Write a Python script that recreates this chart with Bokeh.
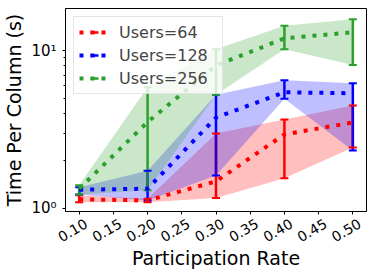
import math
from bokeh.plotting import figure
from bokeh.models import (Range1d, FixedTicker, Legend, LegendItem, ColumnDataSource,
                          LinearAxis)
from bokeh.embed import file_html
from bokeh.resources import INLINE

rates = [0.10, 0.20, 0.30, 0.40, 0.50]
x_ticks = [0.10, 0.15, 0.20, 0.25, 0.30, 0.35, 0.40, 0.45, 0.50]
x_tick_labels = ["0.10", "0.15", "0.20", "0.25", "0.30", "0.35", "0.40", "0.45", "0.50"]

u64_mean = [1.14, 1.12, 1.48, 2.94, 3.50]
u64_low = [1.09, 1.09, 1.16, 1.55, 2.43]
u64_high = [1.21, 1.15, 2.98, 3.66, 4.48]

u128_mean = [1.31, 1.33, 3.76, 5.44, 5.36]
u128_low = [1.22, 1.12, 1.61, 4.95, 2.32]
u128_high = [1.36, 1.73, 5.25, 6.49, 6.20]

u256_mean = [1.33, 3.52, 8.04, 11.96, 13.07]
u256_low = [1.22, 1.30, 5.25, 10.20, 8.10]
u256_high = [1.40, 5.85, 10.20, 14.40, 15.80]

series = [
    ("Users=64", "red", u64_mean, u64_low, u64_high),
    ("Users=128", "blue", u128_mean, u128_low, u128_high),
    ("Users=256", "#2ca02c", u256_mean, u256_low, u256_high),
]

FONT = "DejaVu Sans"
X_MIN, X_MAX = 0.08, 0.52
FRAME_W = 301

p = figure(frame_width=FRAME_W, frame_height=203, output_backend="svg", toolbar_location=None,
           y_axis_type="log", x_range=Range1d(X_MIN, X_MAX), y_range=Range1d(0.953, 18.5),
           min_border_left=57, min_border_right=10, min_border_top=8, min_border_bottom=10)
p.background_fill_color = "white"
p.border_fill_color = "white"
p.outline_line_color = "black"
p.outline_line_width = 1
p.xgrid.visible = False
p.ygrid.visible = False

# bars
for name, col, m, lo, hi in series:
    src = ColumnDataSource(dict(x=rates, lo=lo, hi=hi))
    p.segment(x0="x", y0="lo", x1="x", y1="hi", source=src, line_color=col, line_width=2.5)
# bands
for name, col, m, lo, hi in series:
    src = ColumnDataSource(dict(x=rates, lo=lo, hi=hi))
    p.varea(x="x", y1="lo", y2="hi", source=src, fill_color=col, fill_alpha=0.25)
# caps
for name, col, m, lo, hi in series:
    src = ColumnDataSource(dict(x=rates + rates, y=lo + hi))
    p.scatter(x="x", y="y", source=src, marker="dash", size=8, line_color=col, line_width=2)

items = []
for name, col, m, lo, hi in series:
    src = ColumnDataSource(dict(x=rates, y=m))
    ln = p.line(x="x", y="y", source=src, line_color=col, line_width=4, line_dash="4 7")
    off = ColumnDataSource(dict(x=[0.0], y=[1.0]))  # outside x_range: legend glyph only
    bar = p.scatter(x="x", y="y", source=off, marker="dash", angle=math.pi / 2,
                    size=17, line_color=col, line_width=2.5)
    items.append(LegendItem(label=name, renderers=[ln, bar]))

legend = Legend(items=items, location="top_left", margin=8, padding=5,
                glyph_width=30, glyph_height=20, label_height=20, label_width=98, spacing=3,
                label_standoff=10, label_text_font=FONT, label_text_font_size="16px",
                border_line_color="#cccccc", border_line_width=1,
                background_fill_alpha=0.8)
p.add_layout(legend)

# main x axis: ticks only
p.xaxis.ticker = FixedTicker(ticks=x_ticks)
p.xaxis.major_label_overrides = {t: " " for t in x_ticks}
p.xaxis.major_label_orientation = "vertical"
p.xaxis.major_label_text_font_size = "14px"
p.xaxis.major_label_standoff = 0
p.xaxis.minor_tick_line_color = None

# label axis: rotated labels centred on the ticks
LABEL_PX = 14
shift = 7 * (X_MAX - X_MIN) / FRAME_W
lab_ticks = [t + shift for t in x_ticks]
lab_axis = LinearAxis(ticker=FixedTicker(ticks=lab_ticks),
                      major_label_overrides={lt: s for lt, s in zip(lab_ticks, x_tick_labels)},
                      major_label_orientation=math.pi / 6,
                      major_tick_in=0, major_tick_out=0, minor_tick_in=0, minor_tick_out=0,
                      axis_line_color=None, major_tick_line_color=None, minor_tick_line_color=None,
                      major_label_standoff=1,
                      major_label_text_font=FONT, major_label_text_font_size=f"{LABEL_PX}px",
                      major_label_text_color="black",
                      axis_label="Participation Rate", axis_label_standoff=-3,
                      axis_label_text_font=FONT, axis_label_text_font_size="19px",
                      axis_label_text_font_style="normal", axis_label_text_color="black")
p.add_layout(lab_axis, "below")

p.yaxis.ticker = FixedTicker(ticks=[1, 10], minor_ticks=[2, 3, 4, 5, 6, 7, 8, 9])
p.yaxis.major_label_overrides = {1: "10\u2070", 10: "10\u00b9"}

for ax in (p.xaxis[0], p.yaxis[0]):
    ax.axis_line_color = "black"
    ax.major_tick_in = 0
    ax.major_tick_out = 3
    ax.minor_tick_in = 0
    ax.minor_tick_out = 2
    ax.major_label_text_font = FONT
    ax.major_label_text_color = "black"
    ax.axis_label_text_font = FONT
    ax.axis_label_text_font_style = "normal"
    ax.axis_label_text_color = "black"
    ax.axis_label_text_font_size = "19px"

p.yaxis.major_label_text_font_size = "15px"
p.yaxis.axis_label = "Time Per Column (s)"
p.yaxis.axis_label_standoff = 3
p.yaxis.major_label_standoff = 6

open("out.html", "w").write(file_html(p, INLINE))
